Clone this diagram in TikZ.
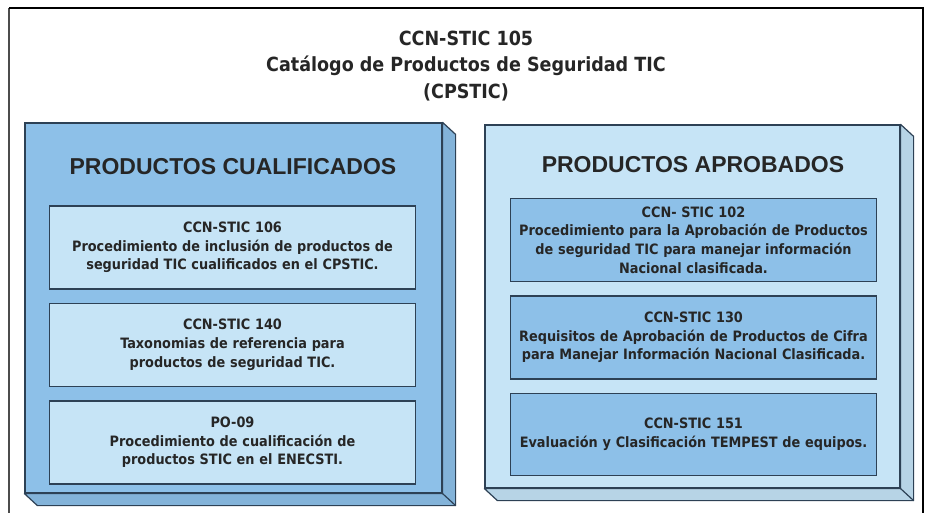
\documentclass[tikz,border=0pt]{standalone}
\usepackage{fontspec}
\setmainfont{DejaVu Sans}
\newfontfamily\condfont{DejaVu Sans Condensed}
\newfontfamily\headfont{Liberation Sans}
\usetikzlibrary{positioning}
\definecolor{azulmedio}{RGB}{141,192,232}
\definecolor{azulclaro}{RGB}{198,228,246}
\definecolor{azulborde}{RGB}{45,65,85}

\begin{document}
\begin{tikzpicture}[x=1pt,y=-1pt,node distance=13pt,
    bloque/.style={draw=azulborde,line width=1.2pt,inner sep=0pt},
    ficha/.style={draw=azulborde,line width=1.4pt,inner sep=0pt,text width=366pt,minimum height=83pt,align=center,
      font=\condfont\bfseries\fontsize{14.3}{18.7}\selectfont,text=black!85},
    rotulo/.style={font=\headfont\bfseries\fontsize{23}{28}\selectfont,text=black!85}]
  \useasboundingbox (0,0) rectangle (928,513);
  % marco
  \draw[black!70,line width=2.5pt] (9,513) -- (9,8);
  \draw[black,line width=1.8pt] (9,8) -- (923,8) -- (923,513);
  \node[align=center,font=\condfont\bfseries\fontsize{19.5}{26.5}\selectfont,text=black!85] (titulo) at (466,66)
    {CCN-STIC 105\\Catálogo de Productos de Seguridad TIC\\(CPSTIC)};
  % bloques con canto
  \node[bloque,fill=azulmedio,minimum width=417pt,minimum height=370pt] (cual) at (233.5,308) {};
  \node[bloque,fill=azulclaro,minimum width=415pt,minimum height=363pt] (apro) at (692.5,306.5) {};
  \foreach \caja/\tono in {cual/azulmedio,apro/azulclaro}{
    \filldraw[draw=azulborde,line width=1.2pt,fill=\tono!90!azulborde,line join=round]
      (\caja.north east) -- ++(13,12) -- ([shift={(13,12)}]\caja.south east)
      -- ([shift={(13,12)}]\caja.south west) -- (\caja.south west) -- (\caja.south east) -- cycle;
    \draw[azulborde,line width=1.2pt] (\caja.south east) -- ++(13,12);
  }
  \node[rotulo] (cualtit) at (233,167) {PRODUCTOS CUALIFICADOS};
  \node[rotulo] (aprotit) at (693,165) {PRODUCTOS APROBADOS};
  % productos cualificados
  \node[ficha,fill=azulclaro] (c106) at (232.5,247.5)
    {CCN-STIC 106\\Procedimiento de inclusión de productos de\\seguridad TIC cualificados en el CPSTIC.};
  \node[ficha,fill=azulclaro,below=of c106] (c140)
    {CCN-STIC 140\\Taxonomias de referencia para\\productos de seguridad TIC.};
  \node[ficha,fill=azulclaro,below=of c140] (po09)
    {PO-09\\Procedimiento de cualificación de\\productos STIC en el ENECSTI.};
  % productos aprobados
  \node[ficha,fill=azulmedio] (a102) at (693.5,240)
    {CCN- STIC 102\\Procedimiento para la Aprobación de Productos\\de seguridad TIC para manejar información\\Nacional clasificada.};
  \node[ficha,fill=azulmedio,below=of a102] (a130)
    {CCN-STIC 130\\Requisitos de Aprobación de Productos de Cifra\\para Manejar Información Nacional Clasificada.};
  \node[ficha,fill=azulmedio,below=of a130,minimum height=82pt] (a151)
    {CCN-STIC 151\\Evaluación y Clasificación TEMPEST de equipos.};
\end{tikzpicture}
\end{document}
